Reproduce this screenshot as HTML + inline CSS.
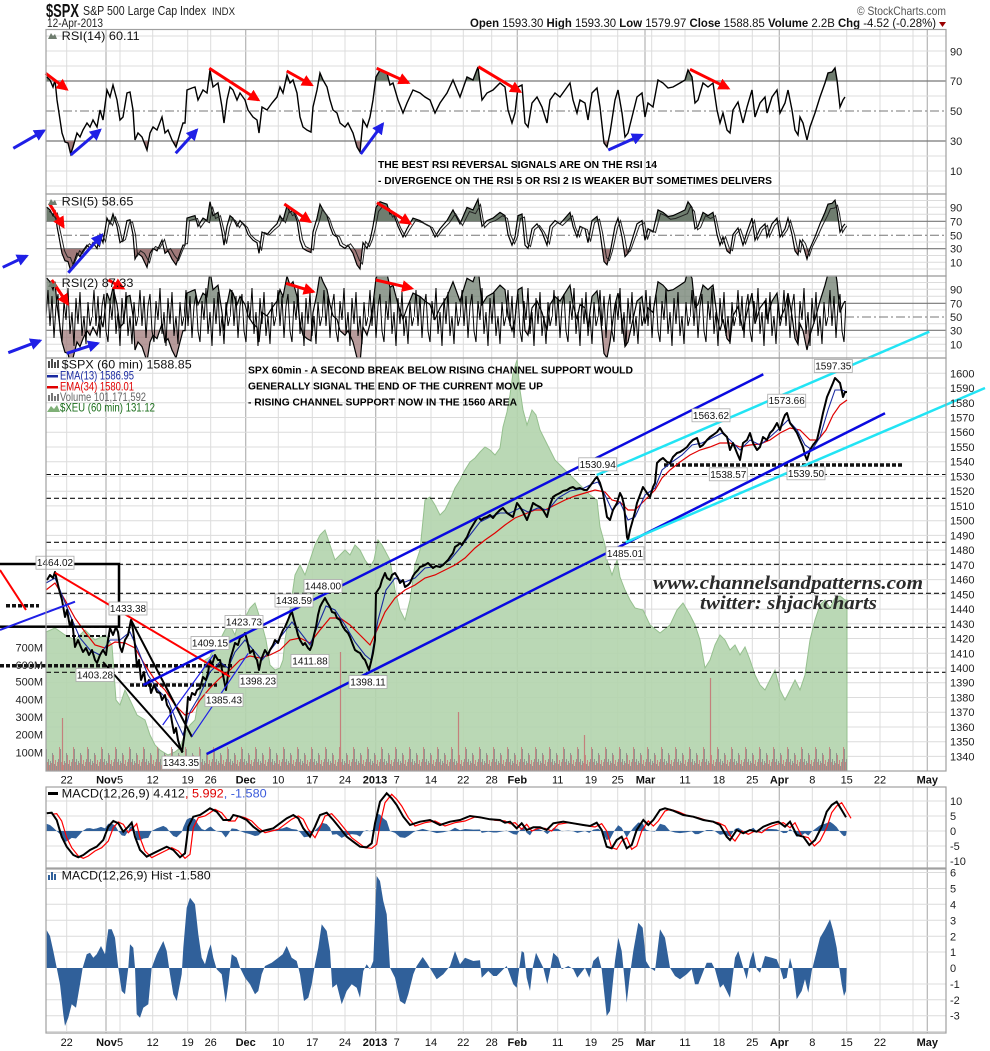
<!DOCTYPE html>
<html><head><meta charset="utf-8"><style>
html,body{margin:0;padding:0;background:#fff;}
svg{display:block;font-family:"Liberation Sans",Arial,sans-serif;}
</style></head><body>
<svg width="990" height="1051" viewBox="0 0 990 1051" xmlns="http://www.w3.org/2000/svg">
<defs>
<marker id="ar" viewBox="0 0 10 10" refX="8" refY="5" markerWidth="4" markerHeight="4" orient="auto"><path d="M0,0 L10,5 L0,10 z" fill="#f00"/></marker>
<marker id="ab" viewBox="0 0 10 10" refX="8" refY="5" markerWidth="4" markerHeight="4" orient="auto"><path d="M0,0 L10,5 L0,10 z" fill="#1f1fe6"/></marker>
<path id="r14" fill="none" vector-effect="non-scaling-stroke" d="M46.7,76.7 L50,80 53,87 55,80 57,100 59,113 62,133 65,142 68,143 70.7,154 73,147 77,133 80,137 83,130 87,123 90,127 93,120 97,127 100,110 103,120 107,90 110,97 113,85 117,100 120,120 123,117 127,93 130,92 133,110 135,140 138,133 142,137 147,150 150,133 153,127 157,130 162,117 165,133 168,130 172,140 176,147 180,133 183,123 185,123 187,90 192,88 195,87 198,100 203,90 207,93 210,70 213,87 218,83 222,107 224,123 227,100 230,87 233,90 237,100 240,93 245,100 248,110 253,117 257,120 259,133 262,107 267,110 272,103 277,97 280,87 283,93 287,75 290,83 293,80 297,93 300,117 303,127 307,130 311,132 313,107 317,90 320,73 323,80 327,87 330,100 333,110 337,113 340,123 345,127 348,123 353,133 357,147 360,152 363,120 367,127 370,117 373,100 376,77 380,70 387,73 390,85 393,83 398,100 403,113 407,103 413,90 420,93 425,97 430,100 435,113 440,103 447,93 453,80 460,97 467,77 473,80 478,67 482,100 487,93 493,90 500,83 505,87 508,110 512,123 515,113 518,87 522,85 525,123 528,127 532,103 537,97 542,107 547,123 550,100 555,93 560,97 565,90 570,83 573,100 577,113 580,100 585,103 588,120 592,93 597,88 600,107 604,143 607,147 610,133 615,100 618,90 622,113 625,137 628,133 632,117 637,97 642,93 645,117 648,103 653,107 658,80 663,83 668,88 673,87 680,83 685,80 688,70 692,77 695,103 698,100 703,83 708,87 713,83 717,110 720,123 723,113 727,130 730,133 733,110 738,102 743,123 747,107 752,90 755,117 760,103 765,97 767,113 772,97 777,90 780,113 785,103 788,90 792,110 795,130 798,135 800,117 803,123 807,140 810,127 815,113 820,97 825,83 828,73 832,72 835,68 837,80 840,107 843,100 845,97"/>
<path id="r14f" d="M46.7,111 L46.7,76.7 L50,80 53,87 55,80 57,100 59,113 62,133 65,142 68,143 70.7,154 73,147 77,133 80,137 83,130 87,123 90,127 93,120 97,127 100,110 103,120 107,90 110,97 113,85 117,100 120,120 123,117 127,93 130,92 133,110 135,140 138,133 142,137 147,150 150,133 153,127 157,130 162,117 165,133 168,130 172,140 176,147 180,133 183,123 185,123 187,90 192,88 195,87 198,100 203,90 207,93 210,70 213,87 218,83 222,107 224,123 227,100 230,87 233,90 237,100 240,93 245,100 248,110 253,117 257,120 259,133 262,107 267,110 272,103 277,97 280,87 283,93 287,75 290,83 293,80 297,93 300,117 303,127 307,130 311,132 313,107 317,90 320,73 323,80 327,87 330,100 333,110 337,113 340,123 345,127 348,123 353,133 357,147 360,152 363,120 367,127 370,117 373,100 376,77 380,70 387,73 390,85 393,83 398,100 403,113 407,103 413,90 420,93 425,97 430,100 435,113 440,103 447,93 453,80 460,97 467,77 473,80 478,67 482,100 487,93 493,90 500,83 505,87 508,110 512,123 515,113 518,87 522,85 525,123 528,127 532,103 537,97 542,107 547,123 550,100 555,93 560,97 565,90 570,83 573,100 577,113 580,100 585,103 588,120 592,93 597,88 600,107 604,143 607,147 610,133 615,100 618,90 622,113 625,137 628,133 632,117 637,97 642,93 645,117 648,103 653,107 658,80 663,83 668,88 673,87 680,83 685,80 688,70 692,77 695,103 698,100 703,83 708,87 713,83 717,110 720,123 723,113 727,130 730,133 733,110 738,102 743,123 747,107 752,90 755,117 760,103 765,97 767,113 772,97 777,90 780,113 785,103 788,90 792,110 795,130 798,135 800,117 803,123 807,140 810,127 815,113 820,97 825,83 828,73 832,72 835,68 837,80 840,107 843,100 845,97 L845,111 Z"/>
<path id="mc" fill="none" d="M46.7,813.3 L51.7,812.7 56.7,820 61.7,836.7 66.7,846.7 73.3,855 78.3,857.3 83.3,855 90,850 96.7,846.7 103.3,840 108.3,826.7 113.3,821 118.3,823.3 123.3,831.7 128.3,826.7 131.7,822.7 135,836.7 140,850 146.7,856.7 153.3,853.3 160,850 166.7,846.7 173.3,850 180,857.3 185,853.3 188.3,826.7 193.3,816.7 200,815 205,811.7 210,808.3 216.7,811.7 223.3,820 230,820 233.3,815 240,816.7 246.7,820 253.3,826.7 260,831.7 266.7,830 273.3,828.3 280,823.3 286.7,818.3 293.3,815 298.3,818.3 303.3,828.3 310,836.7 315,826.7 320,815 326.7,812.7 333.3,820 340,828.3 346.7,836.7 353.3,841.7 360,846.7 366.7,847.3 371.7,843.3 375,823.3 380,801.7 386.7,793.3 391.7,798.3 396.7,805 403.3,816.7 410,825 420,821.7 430,820 440,825 450,821.7 460,820 470,816 480,817.3 490,819.3 500,820 505,822.7 510,821.7 516.7,828.3 521.7,823.3 526.7,830 533.3,827.3 540,827.3 546.7,830 553.3,823.3 563.3,821.7 573.3,823.3 583.3,825 590,826 596.7,822.7 601.7,830 606.7,846.7 611.7,848.3 616.7,840 621.7,836.7 626.7,848.3 631.7,845 636.7,830 643.3,820 648.3,825 653.3,820 660,810 665,808.3 673.3,810.7 683.3,815 693.3,816.7 703.3,820 713.3,821.7 720,825 726.7,836.7 730,840 736.7,830 743.3,833.3 750,830 756.7,831.7 763.3,826.7 771.7,823.3 778.3,821.7 785,826.7 790,821.7 796.7,835 803.3,836.7 809.3,845 815,840 821.7,826.7 826.7,811.7 831.7,805 836.7,801.7 841.7,810 846,817.3"/>
<path id="hist" d="M46.7,968 L46.7,930.3 50,936 53.3,951 56.7,967.7 60,984.3 63.3,1014.3 65,1026 68.3,1017.7 71.7,1004.3 76,1007.7 80,984.3 82.7,967.7 86.7,954.3 90,952.7 93.3,957.7 96.7,954.3 101,946 105,954.3 108.3,929.3 111.7,929.3 115,937.7 118.3,967.7 121.7,991 125,994.3 128.3,967.7 130,944.3 133.3,947.7 135,967.7 136.7,1014.3 140,1017.7 143.3,1007.7 148.3,1004.3 151.7,967.7 156.7,954.3 163.3,941 166.7,951 170,974.3 173.3,994.3 176.7,1001 181.7,974.3 183.3,947.7 186.7,907.7 190,897.7 195,904.3 198.3,934.3 201.7,957.7 205,964.3 208.3,951 210.7,944.3 213.3,957.7 216.7,969.3 221.7,974.3 225.7,1002.7 228.3,984.3 231.7,954.3 236.7,957.7 240,967.7 245,977.7 250,984.3 255,994.3 258.3,991 261.7,974.3 265,966 271.7,962.7 278.3,957.7 282.7,954.3 286.7,946 291.7,957.7 296.7,961 300,974.3 304,1001 308.3,997.7 311.7,984.3 315,964.3 318.3,947.7 321.7,924.3 326.7,931 330,951 332.3,987.7 336.7,984.3 341.7,1004.3 346.7,991 351.7,984.3 356.7,987.7 360,997.7 363.3,971 366.7,964.3 370,969.3 373.3,961 376.7,876 380,881 383.3,901 386.7,914.3 390,967.7 395,977.7 400,1001 405,1004.3 408.3,994.3 413.3,974.3 416.7,966 422.7,957 426.7,962.7 431.7,971 436.7,979.3 443.3,974.3 450,966 455,951 460,964.3 465,957.7 473.3,961 480,960.3 481.7,977.7 488.3,971 493.3,976 496.7,976 503.3,969.3 506.7,966 513.3,984.3 516.7,987.7 519.3,967.7 521.7,951 524,952.7 526.7,977.7 530,991 532.7,967.7 536,952.7 540,961 543.3,967.7 547.3,984.3 550,971 553.3,952.7 558.3,957.7 561.7,969.3 568.3,966 573.3,969.3 577.3,977.7 585,967.7 589.3,977.7 593.3,961 598.3,956 601.7,969.3 606.7,1016 610,1011 615,961 618.3,937.7 621.7,951 625,984.3 626.7,1002.7 630,974.3 633.3,951 638.3,922.7 642.7,927.7 646,961 650,967.7 655,971 660,929.3 665,937.7 670,967.7 675,976 680,979.3 686.7,974.3 691.7,969.3 695,984.3 698.3,984.3 706.7,962.7 711.7,962.7 715,969.3 720,987.7 723.3,984.3 730,997.7 735,957.7 738.3,951 743.3,967.7 746.7,979.3 750,961 753.3,951 756.7,969.3 760,972.7 765,956 771.7,957.7 776.7,959.3 780,967.7 783.3,979.3 786.7,977.7 790,957.7 793.3,971 796.7,999.3 801.7,991 805,979.3 808.3,992.7 811.7,971 815,957.7 820,937.7 825,929.3 830,919.3 833.3,931 836.7,947.7 839.3,967.7 841.7,984.3 844,996 846,991 846.7,967.7 L846.7,968 Z"/>
<clipPath id="g14"><rect x="46" y="30" width="801" height="51"/></clipPath>
<clipPath id="b14"><rect x="46" y="141" width="801" height="53"/></clipPath>
<clipPath id="p5"><rect x="46" y="194.5" width="801" height="81"/></clipPath>
<clipPath id="g5"><rect x="46" y="194.5" width="801" height="26.8"/></clipPath>
<clipPath id="b5"><rect x="46" y="249" width="801" height="27"/></clipPath>
<clipPath id="p2"><rect x="46" y="276.5" width="801" height="81"/></clipPath>
<clipPath id="g2"><rect x="46" y="276.5" width="801" height="26.8"/></clipPath>
<clipPath id="b2"><rect x="46" y="330.3" width="801" height="27.5"/></clipPath>
<pattern id="zz" patternUnits="userSpaceOnUse" x="46" y="276" width="46" height="82">
<polyline fill="none" stroke="#000" stroke-width="1" points="0,41 2,14 4,50 6,20 8,62 10,30 12,18 14,55 16,66 18,25 20,44 22,12 24,58 26,36 28,70 30,22 32,48 34,16 36,60 38,40 40,68 42,26 44,50 46,41"/>
</pattern>
<pattern id="vol" patternUnits="userSpaceOnUse" x="46" y="741" width="14" height="30">
<rect x="0" y="8" width="1" height="22" fill="#8c8c8c"/><rect x="1" y="21" width="1" height="9" fill="#c4807c"/><rect x="2" y="18" width="1" height="12" fill="#8c8c8c"/><rect x="3" y="24" width="1" height="6" fill="#c4807c"/><rect x="4" y="20" width="1" height="10" fill="#8c8c8c"/><rect x="5" y="22" width="1" height="8" fill="#c4807c"/><rect x="6" y="12" width="1" height="18" fill="#8c8c8c"/><rect x="7" y="14" width="1" height="16" fill="#c4807c"/><rect x="8" y="23" width="1" height="7" fill="#8c8c8c"/><rect x="9" y="19" width="1" height="11" fill="#c4807c"/><rect x="10" y="25" width="1" height="5" fill="#8c8c8c"/><rect x="11" y="21" width="1" height="9" fill="#c4807c"/><rect x="12" y="18" width="1" height="12" fill="#8c8c8c"/><rect x="13" y="6" width="1" height="24" fill="#c4807c"/>
</pattern>
</defs>

<rect width="990" height="1051" fill="#fff"/>

<!-- Header -->
<text x="46" y="17" font-size="18" font-weight="bold" fill="#111" textLength="33" lengthAdjust="spacingAndGlyphs">$SPX</text>
<text x="83" y="15" font-size="12.5" fill="#222" textLength="123" lengthAdjust="spacingAndGlyphs">S&amp;P 500 Large Cap Index</text>
<text x="212" y="15" font-size="11" fill="#222" textLength="23" lengthAdjust="spacingAndGlyphs">INDX</text>
<text x="47" y="27" font-size="11.5" fill="#222" textLength="56" lengthAdjust="spacingAndGlyphs">12-Apr-2013</text>
<text x="857" y="15" font-size="12" fill="#555" textLength="89" lengthAdjust="spacingAndGlyphs">© StockCharts.com</text>
<text x="470" y="27" font-size="11.5" fill="#111" textLength="466" lengthAdjust="spacingAndGlyphs"><tspan font-weight="bold">Open</tspan> 1593.30 <tspan font-weight="bold">High</tspan> 1593.30 <tspan font-weight="bold">Low</tspan> 1579.97 <tspan font-weight="bold">Close</tspan> 1588.85 <tspan font-weight="bold">Volume</tspan> 2.2B <tspan font-weight="bold">Chg</tspan> -4.52 (-0.28%)</text>
<polygon points="939,22 946,22 942.5,27" fill="#990000"/>

<!-- Vertical grid lines -->
<path stroke="#dcdcdc" stroke-width="1" fill="none" d="M66.7,30V771M120,30V771M152.7,30V771M187.7,30V771M210.7,30V771M278.3,30V771M312.3,30V771M345,30V771M396.7,30V771M431,30V771M463.3,30V771M491.7,30V771M557.7,30V771M591,30V771M617.7,30V771M651.7,30V771M685,30V771M719,30V771M752.3,30V771M812.3,30V771M846.7,30V771M880,30V771M913,30V771
M66.7,787V1033M120,787V1033M152.7,787V1033M187.7,787V1033M210.7,787V1033M278.3,787V1033M312.3,787V1033M345,787V1033M396.7,787V1033M431,787V1033M463.3,787V1033M491.7,787V1033M557.7,787V1033M591,787V1033M617.7,787V1033M651.7,787V1033M685,787V1033M719,787V1033M752.3,787V1033M812.3,787V1033M846.7,787V1033M880,787V1033M913,787V1033"/>
<path stroke="#b4b4b4" stroke-width="1.2" fill="none" d="M106,30V771M245.7,30V771M375.7,30V771M517.3,30V771M645,30V771M779.3,30V771M927.3,30V771M106,787V1033M245.7,787V1033M375.7,787V1033M517.3,787V1033M645,787V1033M779.3,787V1033M927.3,787V1033"/>

<!-- Horizontal grid: RSI14 -->
<path stroke="#dcdcdc" fill="none" d="M46,36H946M46,51H946M46,66H946M46,96H946M46,126H946M46,156H946M46,171H946M46,186H946
M46,200.5H946M46,207.3H946M46,214.3H946M46,228.3H946M46,242H946M46,255.5H946M46,262.3H946M46,269H946
M46,282.5H946M46,289.3H946M46,296.3H946M46,310H946M46,323.7H946M46,337.3H946M46,344.3H946M46,351H946
M46,373.3H946M46,388H946M46,402.8H946M46,417.5H946M46,432.2H946M46,447H946M46,461.7H946M46,476.4H946M46,491.2H946M46,505.9H946M46,520.7H946M46,535.4H946M46,550.1H946M46,564.9H946M46,579.6H946M46,594.3H946M46,609.1H946M46,623.8H946M46,638.5H946M46,653.3H946M46,668H946M46,682.7H946M46,697.5H946M46,712.2H946M46,727H946M46,741.7H946M46,756.4H946
M46,801H946M46,816H946M46,831H946M46,846H946M46,861H946
M46,872.5H946M46,888.5H946M46,904.3H946M46,920.3H946M46,936.3H946M46,952H946M46,984H946M46,999.8H946M46,1015.7H946M46,1031.5H946"/>
<path stroke="#777" stroke-width="1.2" fill="none" d="M46,81H946M46,141H946M46,221.3H946M46,248.7H946M46,303.3H946M46,330.3H946"/>
<path stroke="#777" stroke-width="1" stroke-dasharray="9,3,2,3" fill="none" d="M46,111H946M46,235.3H946M46,317H946"/>

<!-- XEU green area -->
<path fill="#b3d4ad" fill-opacity="0.9" stroke="#96c08f" stroke-width="1" d="M46,771 L46,632 L55,628 L65,635 L75,640 L85,630 L95,640 L105,635 L112,645 L116,700 L120,705 L125,690 L130,700 L137,715 L145,720 L150,735 L155,745 L160,750 L168,755 L175,752 L180,748 L185,733 L190,725 L195,720 L200,690 L205,660 L210,657 L215,645 L220,640 L225,630 L230,625 L235,635 L240,615 L245,618 L250,608 L255,603 L258,612 L262,625 L266,640 L270,665 L275,670 L280,668 L283,660 L285,640 L290,610 L295,575 L300,565 L305,575 L310,560 L315,545 L320,535 L325,530 L330,545 L335,560 L340,555 L345,550 L350,555 L355,545 L360,550 L365,560 L370,567 L374,560 L378,540 L382,545 L390,560 L395,590 L400,610 L405,620 L410,600 L415,565 L420,550 L425,500 L430,497 L435,505 L440,515 L445,510 L450,500 L455,488 L460,480 L465,470 L470,462 L475,458 L480,452 L485,447 L490,450 L495,455 L500,448 L503,427 L507,412 L510,395 L513,373 L517,360 L520,390 L523,410 L527,425 L532,410 L536,415 L540,430 L545,440 L550,450 L555,460 L560,465 L570,475 L580,485 L590,495 L597,500 L600,527 L605,545 L607,560 L612,575 L617,560 L620,577 L625,590 L630,600 L635,608 L643,610 L650,625 L660,633 L670,625 L677,610 L683,603 L690,615 L695,625 L700,640 L705,668 L710,660 L715,645 L720,635 L725,640 L730,650 L735,645 L740,655 L745,647 L750,660 L755,675 L760,685 L765,690 L770,680 L775,670 L780,690 L785,700 L790,690 L795,680 L800,690 L805,675 L810,640 L815,620 L820,605 L825,600 L830,608 L835,598 L840,596 L845,600 L847,600 L847,771 Z"/>

<!-- Volume -->
<rect x="46" y="741" width="801" height="30" fill="url(#vol)" opacity="0.9"/>
<path stroke="#c4807c" stroke-width="1.2" d="M62.5,771V718M340.5,771V652M458.5,771V712M710.5,771V678M584.5,771V735"/>

<!-- Dashed horizontal annotation lines -->
<path stroke="#111" stroke-width="1.1" stroke-dasharray="5,3" fill="none" d="M46,474.5H946M46,498.3H946M46,542.3H946M46,564.3H946M46,593.3H946M46,627.3H946M46,672.3H946"/>
<path stroke="#111" stroke-width="3.5" stroke-dasharray="4,2" fill="none" d="M664,465H902M0,665.7H233M130,685H217M6,605.7H39"/>
<path stroke="#111" stroke-width="2" stroke-dasharray="4,2" fill="none" d="M66,636H110"/>

<!-- RSI fills -->
<g clip-path="url(#g14)"><use href="#r14f" fill="#6f7d6f"/></g>
<g clip-path="url(#b14)"><use href="#r14f" fill="#a07a7a"/></g>
<g clip-path="url(#g5)"><use href="#r14f" fill="#6f7d6f" transform="matrix(1 0 0 0.819 0 144.4)"/></g>
<g clip-path="url(#b5)"><use href="#r14f" fill="#a07a7a" transform="matrix(1 0 0 0.819 0 144.4)"/></g>
<g clip-path="url(#g2)"><use href="#r14f" fill="#6f7d6f" fill-opacity="0.75" transform="matrix(1 0 0 1.1375 0 190.74)"/></g>
<g clip-path="url(#b2)"><use href="#r14f" fill="#a07a7a" fill-opacity="0.75" transform="matrix(1 0 0 1.1375 0 190.74)"/></g>

<!-- RSI lines -->
<use href="#r14" stroke="#000" stroke-width="1.4"/>
<g clip-path="url(#p5)">
<use href="#r14" stroke="#000" stroke-width="1.2" transform="matrix(1 0 0 0.819 0 144.4)"/>
<use href="#r14" stroke="#222" stroke-width="1" transform="matrix(1 0 0 0.7 2.5 157.6)"/>
</g>
<g clip-path="url(#p2)">
<rect x="46" y="276" width="800" height="82" fill="url(#zz)"/>
<use href="#r14" stroke="#000" stroke-width="1.2" transform="matrix(1 0 0 1.1375 0 190.74)"/>
</g>

<!-- Price EMAs -->
<polyline fill="none" stroke="#e00000" stroke-width="1.2" points="46,590 55,583 65,600 75,618 85,632 95,645 105,648 115,642 125,643 135,648 145,665 155,680 165,690 175,705 185,715 192,712 200,700 210,688 220,678 230,670 240,660 250,656 260,658 270,655 280,650 290,640 300,638 310,643 320,630 330,618 340,618 350,625 360,635 370,645 378,628 385,612 395,598 405,590 415,585 425,578 435,575 445,570 455,565 465,558 475,548 485,540 495,533 505,525 515,518 525,514 535,510 545,510 555,505 565,500 575,496 585,493 595,490 605,492 612,500 620,502 628,510 635,510 645,500 655,490 662,478 670,470 680,462 690,455 700,450 710,447 720,443 730,443 740,447 750,445 760,444 770,440 780,433 790,428 800,430 810,440 818,440 826,430 833,415 840,405 847,400"/>
<polyline fill="none" stroke="#1a2aa0" stroke-width="1.1" points="46,583 55,578 62,595 70,615 80,638 90,650 100,655 110,640 120,640 130,632 138,650 148,675 158,690 168,700 176,720 183,735 190,712 200,695 210,672 220,662 228,668 235,652 245,640 255,652 262,660 272,648 282,635 292,622 300,632 310,645 318,625 326,606 335,610 345,625 355,642 365,655 371,660 378,620 386,590 395,578 405,582 415,578 425,568 440,566 450,560 460,548 470,535 480,522 490,517 500,513 510,513 520,508 528,512 538,508 548,510 558,498 570,491 582,489 592,484 598,482 605,495 612,510 620,502 628,520 635,517 645,495 655,488 662,470 672,462 682,455 692,445 702,443 712,438 722,433 730,440 740,450 750,440 760,445 770,437 780,428 788,420 797,430 805,445 812,450 820,437 828,410 835,390 842,390 847,392"/>

<!-- Price -->
<polyline fill="none" stroke="#000" stroke-width="2" stroke-linejoin="round" points="47,580 50,575 53,578 55,572 58,585 60,593 62,600 65,617 67,610 70,627 72,620 75,647 78,640 80,645 83,652 86,648 89,655 92,650 95,660 97,663 100,655 103,650 106,655 108,640 110,628 113,635 116,627 118,632 120,647 122,652 125,640 128,635 131,620 133,630 135,645 137,667 139,660 141,680 144,672 146,686 149,680 151,693 154,685 157,692 160,693 162,700 165,695 167,705 170,710 172,722 174,733 176,728 178,740 180,747 182,752 184,738 185,730 187,710 188,697 190,700 192,693 195,695 197,690 200,688 203,677 206,680 208,673 210,660 212,665 215,655 218,660 220,660 222,670 225,685 226,690 228,675 230,660 233,650 235,643 238,645 240,638 243,636 245,633 247,640 250,653 253,650 255,657 257,660 259,670 261,660 263,655 265,650 268,655 270,650 273,645 275,640 278,643 280,637 283,630 285,627 288,620 290,615 292,612 294,620 296,627 298,635 300,640 303,645 305,643 308,648 310,650 312,645 314,635 316,627 318,615 320,607 322,603 325,598 327,602 330,607 332,612 335,613 337,618 340,620 342,625 345,630 348,633 350,637 353,645 355,650 358,652 360,653 363,658 365,660 367,665 369,670 371,662 373,653 375,640 376,593 378,590 380,587 382,580 385,573 387,578 390,580 392,575 395,573 398,578 400,583 403,580 405,587 408,585 410,583 413,576 415,573 418,570 420,567 423,566 425,565 428,563 430,565 433,568 436,566 440,567 443,565 445,563 448,560 450,557 453,553 455,547 458,545 460,543 462,545 465,540 467,537 470,530 473,525 476,520 478,517 481,520 484,518 487,517 490,515 493,518 496,514 500,510 503,508 507,513 510,515 513,517 515,510 517,503 520,507 523,512 527,520 530,512 533,503 536,505 540,507 543,510 547,517 550,505 553,497 556,495 560,493 563,491 567,490 570,488 573,487 576,489 580,488 584,490 587,490 590,486 593,482 595,479 597,477 600,483 603,493 605,505 607,517 610,520 613,510 617,503 620,493 622,497 624,505 627,537 628,540 630,530 632,523 635,512 637,503 640,495 643,487 645,490 647,493 650,497 653,487 655,483 657,463 660,460 663,458 667,462 670,463 673,457 677,453 680,452 683,450 687,447 690,443 693,440 697,438 700,447 703,445 707,440 710,437 713,435 717,432 720,428 723,433 727,437 730,450 733,443 735,448 737,453 740,460 743,443 747,440 750,433 753,443 757,450 760,447 763,437 767,440 770,433 773,430 777,423 780,430 783,420 785,415 787,413 790,423 793,427 797,433 800,440 803,447 805,455 807,460 810,450 813,445 817,440 820,427 823,413 827,397 830,390 833,383 835,378 837,380 840,383 842,392 843,397 845,392 847,392"/>

<!-- Drawn lines -->
<rect x="-2" y="564" width="121" height="62.7" fill="none" stroke="#000" stroke-width="2.5"/>
<line x1="0" y1="570" x2="26" y2="610" stroke="#f00" stroke-width="2"/>
<line x1="55" y1="572.7" x2="230" y2="676.7" stroke="#f00" stroke-width="2"/>
<line x1="0" y1="630" x2="75" y2="601.7" stroke="#1f1fe6" stroke-width="2"/>
<line x1="131" y1="620" x2="192" y2="737" stroke="#000" stroke-width="2"/>
<line x1="103" y1="662" x2="183" y2="752" stroke="#000" stroke-width="2"/>
<line x1="162.7" y1="725" x2="213.3" y2="655" stroke="#1f1fe6" stroke-width="1.2"/>
<line x1="191.7" y1="736.7" x2="248.3" y2="653.3" stroke="#1f1fe6" stroke-width="1.2"/>
<line x1="143.3" y1="685" x2="763.3" y2="374.3" stroke="#0a0ae0" stroke-width="2.5"/>
<line x1="206.7" y1="754" x2="885" y2="413.3" stroke="#0a0ae0" stroke-width="2.5"/>
<line x1="596.7" y1="475" x2="929.3" y2="331.7" stroke="#22e4f4" stroke-width="2.5"/>
<line x1="625.7" y1="542.3" x2="985" y2="388" stroke="#22e4f4" stroke-width="2.5"/>

<!-- Price labels -->
<g font-size="10" fill="#111" text-anchor="middle">
<g fill="#fff" stroke="#aaa" stroke-width="0.8">
<rect x="36" y="556.2" width="38" height="13"/><rect x="109" y="602" width="38" height="13"/><rect x="76" y="668.5" width="38" height="13"/><rect x="191" y="636.5" width="38" height="13"/><rect x="225" y="615.5" width="38" height="13"/><rect x="275" y="594" width="38" height="13"/><rect x="304" y="579.5" width="38" height="13"/><rect x="291" y="654.5" width="38" height="13"/><rect x="239" y="674.5" width="38" height="13"/><rect x="205" y="693.5" width="38" height="13"/><rect x="162" y="756.2" width="38" height="13"/><rect x="349" y="675.5" width="38" height="13"/><rect x="578.7" y="457.8" width="38" height="13"/><rect x="606" y="546.8" width="38" height="13"/><rect x="692" y="408.8" width="38" height="13"/><rect x="767.7" y="394.2" width="38" height="13"/><rect x="709.3" y="467.8" width="38" height="13"/><rect x="787" y="466.8" width="38" height="13"/><rect x="814.3" y="359.5" width="38" height="13"/>
</g>
<text x="55" y="566.2">1464.02</text><text x="128" y="612">1433.38</text><text x="95" y="678.5">1403.28</text><text x="210" y="646.5">1409.15</text><text x="244" y="625.5">1423.73</text><text x="294" y="604">1438.59</text><text x="323" y="589.5">1448.00</text><text x="310" y="664.5">1411.88</text><text x="258" y="684.5">1398.23</text><text x="224" y="703.5">1385.43</text><text x="181" y="766.2">1343.35</text><text x="368" y="685.5">1398.11</text><text x="597.7" y="467.8">1530.94</text><text x="625" y="556.8">1485.01</text><text x="711" y="418.8">1563.62</text><text x="786.7" y="404.2">1573.66</text><text x="728.3" y="477.8">1538.57</text><text x="806" y="476.8">1539.50</text><text x="833.3" y="369.5">1597.35</text>
</g>

<!-- Annotations text -->
<g font-weight="bold" font-size="10.5" fill="#000">
<text x="378" y="168" textLength="279" lengthAdjust="spacingAndGlyphs">THE BEST RSI REVERSAL SIGNALS ARE ON THE RSI 14</text>
<text x="378" y="184" textLength="394" lengthAdjust="spacingAndGlyphs">- DIVERGENCE ON THE RSI 5 OR RSI 2 IS WEAKER BUT SOMETIMES DELIVERS</text>
<text x="248" y="373.5" textLength="385" lengthAdjust="spacingAndGlyphs">SPX 60min - A SECOND BREAK BELOW RISING CHANNEL SUPPORT WOULD</text>
<text x="248" y="389.5" textLength="295" lengthAdjust="spacingAndGlyphs">GENERALLY SIGNAL THE END OF THE CURRENT MOVE UP</text>
<text x="248" y="405.5" textLength="269" lengthAdjust="spacingAndGlyphs">- RISING CHANNEL SUPPORT NOW IN THE 1560 AREA</text>
</g>
<g font-family="'Liberation Serif',serif" font-style="italic" font-weight="bold" font-size="19" fill="#2a2a2a">
<text x="653" y="589" textLength="270" lengthAdjust="spacingAndGlyphs">www.channelsandpatterns.com</text>
<text x="700" y="609" textLength="177" lengthAdjust="spacingAndGlyphs">twitter: shjackcharts</text>
</g>

<!-- Arrows -->
<g stroke="#f00" stroke-width="3" marker-end="url(#ar)">
<line x1="45.7" y1="73.3" x2="66.7" y2="89.3"/><line x1="209.3" y1="68.3" x2="258.3" y2="100"/><line x1="286.7" y1="71" x2="311.7" y2="85"/><line x1="376.7" y1="68.3" x2="408.3" y2="82.7"/><line x1="478.3" y1="66.7" x2="520" y2="91.7"/><line x1="690" y1="69.3" x2="728.3" y2="88.3"/>
<line x1="49.3" y1="203.3" x2="63.3" y2="226.7"/><line x1="284.3" y1="204" x2="310" y2="221.7"/><line x1="377" y1="202.7" x2="410" y2="223.3"/>
<line x1="51.7" y1="280" x2="67.7" y2="304"/><line x1="108.3" y1="280" x2="123.3" y2="288.3"/><line x1="286" y1="283.3" x2="313.3" y2="291.7"/><line x1="375.7" y1="280" x2="411.7" y2="288.3"/>
</g>
<g stroke="#1f1fe6" stroke-width="3" marker-end="url(#ab)">
<line x1="13.3" y1="148.3" x2="44" y2="130.7"/><line x1="70.7" y1="155" x2="100" y2="130"/><line x1="175.7" y1="153.3" x2="196.7" y2="130"/><line x1="360.7" y1="154" x2="382.7" y2="124"/><line x1="608.3" y1="150" x2="641.7" y2="135"/>
<line x1="2.7" y1="267.3" x2="26.7" y2="256"/><line x1="68.3" y1="272.7" x2="101.7" y2="235"/>
<line x1="8.3" y1="352.7" x2="40" y2="340.7"/><line x1="66.7" y1="353.3" x2="97.7" y2="343.3"/>
</g>

<!-- MACD -->
<use href="#hist" fill="#30609a" transform="matrix(1 0 0 0.1887 0 648.34)"/>
<use href="#mc" stroke="#f00" stroke-width="1.2" transform="translate(5,1)"/>
<use href="#mc" stroke="#000" stroke-width="2"/>
<use href="#hist" fill="#30609a"/>

<!-- X axis strips -->
<rect x="0" y="771.5" width="990" height="15" fill="#fff"/>
<rect x="0" y="1033.5" width="990" height="18" fill="#fff"/>

<!-- Panel borders -->
<g fill="none" stroke="#a0a0a0" stroke-width="1.2">
<rect x="46" y="29.5" width="900" height="164.5"/>
<rect x="46" y="194" width="900" height="82"/>
<rect x="46" y="276" width="900" height="82"/>
<rect x="46" y="358" width="900" height="413"/>
<rect x="46" y="787" width="900" height="81"/>
<rect x="46" y="869" width="900" height="164"/>
</g>

<!-- Panel legends -->
<g font-size="12" fill="#111">
<path d="M48,39 l3,-6 2,3 2,-2 2,5z" fill="#6f7d6f"/>
<text x="61.7" y="40" textLength="78" lengthAdjust="spacingAndGlyphs">RSI(14) 60.11</text>
<path d="M48,205 l3,-6 2,3 2,-2 2,5z" fill="#6f7d6f"/>
<text x="61.7" y="205.5" textLength="71.7" lengthAdjust="spacingAndGlyphs">RSI(5) 58.65</text>
<path d="M48,287 l3,-6 2,3 2,-2 2,5z" fill="#6f7d6f"/>
<text x="61.7" y="287" textLength="71.7" lengthAdjust="spacingAndGlyphs">RSI(2) 87.33</text>
<path d="M49,368 v-7 M52,368 v-9 M55,368 v-6 M58,368 v-8" stroke="#111" stroke-width="1.5"/>
<text x="61.7" y="368.5" textLength="130" lengthAdjust="spacingAndGlyphs">$SPX (60 min) 1588.85</text>
<rect x="47" y="375" width="11" height="2.5" fill="#1a2aa0"/>
<text x="60" y="379.5" fill="#1a2aa0" textLength="74" lengthAdjust="spacingAndGlyphs">EMA(13) 1586.95</text>
<rect x="47" y="386" width="11" height="2.5" fill="#e00000"/>
<text x="60" y="390.5" fill="#e00000" textLength="74" lengthAdjust="spacingAndGlyphs">EMA(34) 1580.01</text>
<path d="M49,401 v-6 M52,401 v-8 M55,401 v-5 M58,401 v-7" stroke="#777" stroke-width="2"/>
<text x="60" y="401" fill="#666" textLength="86" lengthAdjust="spacingAndGlyphs">Volume 101,171,592</text>
<path d="M47,412 l4,-6 3,3 3,-4 3,7z" fill="#7fb077"/>
<text x="60" y="411.5" fill="#1a6e1a" textLength="95" lengthAdjust="spacingAndGlyphs">$XEU (60 min) 131.12</text>
<rect x="48" y="792" width="10" height="3" fill="#000"/>
<text x="61.7" y="797.5" textLength="205" lengthAdjust="spacingAndGlyphs">MACD(12,26,9) 4.412<tspan fill="#e00000">, 5.992</tspan><tspan fill="#3b5bdb">, -1.580</tspan></text>
<path d="M49,880 v-5 M52,880 v-8 M55,880 v-6" stroke="#30609a" stroke-width="2"/>
<text x="61.7" y="879.5" textLength="149" lengthAdjust="spacingAndGlyphs">MACD(12,26,9) Hist -1.580</text>
</g>

<!-- Volume labels -->
<g font-size="11" fill="#222" text-anchor="end">
<text x="43" y="651.3">700M</text><text x="43" y="669">600M</text><text x="43" y="685.7">500M</text><text x="43" y="703.3">400M</text><text x="43" y="721">300M</text><text x="43" y="738.3">200M</text><text x="43" y="756.3">100M</text>
</g>

<!-- Right axis labels -->
<g font-size="11" fill="#222">
<text x="950" y="55.7">90</text><text x="950" y="85">70</text><text x="950" y="115">50</text><text x="950" y="145">30</text><text x="950" y="175">10</text>
<text x="950" y="211.3">90</text><text x="950" y="225.3">70</text><text x="950" y="239.3">50</text><text x="950" y="252.7">30</text><text x="950" y="266.3">10</text>
<text x="950" y="293.3">90</text><text x="950" y="307.3">70</text><text x="950" y="321">50</text><text x="950" y="334.3">30</text><text x="950" y="348.3">10</text>
<text x="950" y="377.3">1600</text><text x="950" y="392">1590</text><text x="950" y="406.8">1580</text><text x="950" y="421.5">1570</text><text x="950" y="436.2">1560</text><text x="950" y="451">1550</text><text x="950" y="465.7">1540</text><text x="950" y="480.4">1530</text><text x="950" y="495.2">1520</text><text x="950" y="509.9">1510</text><text x="950" y="524.7">1500</text><text x="950" y="539.4">1490</text><text x="950" y="554.1">1480</text><text x="950" y="568.9">1470</text><text x="950" y="583.6">1460</text><text x="950" y="598.3">1450</text><text x="950" y="613.1">1440</text><text x="950" y="627.8">1430</text><text x="950" y="642.5">1420</text><text x="950" y="657.3">1410</text><text x="950" y="672">1400</text><text x="950" y="686.7">1390</text><text x="950" y="701.5">1380</text><text x="950" y="716.2">1370</text><text x="950" y="731">1360</text><text x="950" y="745.7">1350</text><text x="950" y="760.4">1340</text>
<text x="950" y="805">10</text><text x="950" y="820">5</text><text x="950" y="835">0</text><text x="950" y="850">-5</text><text x="950" y="865">-10</text>
<text x="950" y="876.7">6</text><text x="950" y="892.5">5</text><text x="950" y="908.3">4</text><text x="950" y="924.3">3</text><text x="950" y="940.3">2</text><text x="950" y="956">1</text><text x="950" y="972">0</text><text x="950" y="988">-1</text><text x="950" y="1003.8">-2</text><text x="950" y="1019.7">-3</text>
</g>

<!-- X axis labels -->
<g font-size="11" fill="#111" text-anchor="middle">
<g id="xl">
<text x="66.7" y="783.5">22</text><text x="106.5" y="783.5" font-weight="bold">Nov</text><text x="120" y="783.5">5</text><text x="152.7" y="783.5">12</text><text x="187.7" y="783.5">19</text><text x="210.7" y="783.5">26</text><text x="245.7" y="783.5" font-weight="bold">Dec</text><text x="278.3" y="783.5">10</text><text x="312.3" y="783.5">17</text><text x="345" y="783.5">24</text><text x="375" y="783.5" font-weight="bold">2013</text><text x="396.7" y="783.5">7</text><text x="431" y="783.5">14</text><text x="463.3" y="783.5">22</text><text x="491.7" y="783.5">28</text><text x="517.3" y="783.5" font-weight="bold">Feb</text><text x="557.7" y="783.5">11</text><text x="591" y="783.5">19</text><text x="617.7" y="783.5">25</text><text x="645.5" y="783.5" font-weight="bold">Mar</text><text x="685" y="783.5">11</text><text x="719" y="783.5">18</text><text x="752.3" y="783.5">25</text><text x="779.3" y="783.5" font-weight="bold">Apr</text><text x="812.3" y="783.5">8</text><text x="846.7" y="783.5">15</text><text x="880" y="783.5">22</text><text x="927.3" y="783.5" font-weight="bold">May</text>
</g>
<text x="66.7" y="1046">22</text><text x="106.5" y="1046" font-weight="bold">Nov</text><text x="120" y="1046">5</text><text x="152.7" y="1046">12</text><text x="187.7" y="1046">19</text><text x="210.7" y="1046">26</text><text x="245.7" y="1046" font-weight="bold">Dec</text><text x="278.3" y="1046">10</text><text x="312.3" y="1046">17</text><text x="345" y="1046">24</text><text x="375" y="1046" font-weight="bold">2013</text><text x="396.7" y="1046">7</text><text x="431" y="1046">14</text><text x="463.3" y="1046">22</text><text x="491.7" y="1046">28</text><text x="517.3" y="1046" font-weight="bold">Feb</text><text x="557.7" y="1046">11</text><text x="591" y="1046">19</text><text x="617.7" y="1046">25</text><text x="645.5" y="1046" font-weight="bold">Mar</text><text x="685" y="1046">11</text><text x="719" y="1046">18</text><text x="752.3" y="1046">25</text><text x="779.3" y="1046" font-weight="bold">Apr</text><text x="812.3" y="1046">8</text><text x="846.7" y="1046">15</text><text x="880" y="1046">22</text><text x="927.3" y="1046" font-weight="bold">May</text>
</g>
</svg>
</body></html>
